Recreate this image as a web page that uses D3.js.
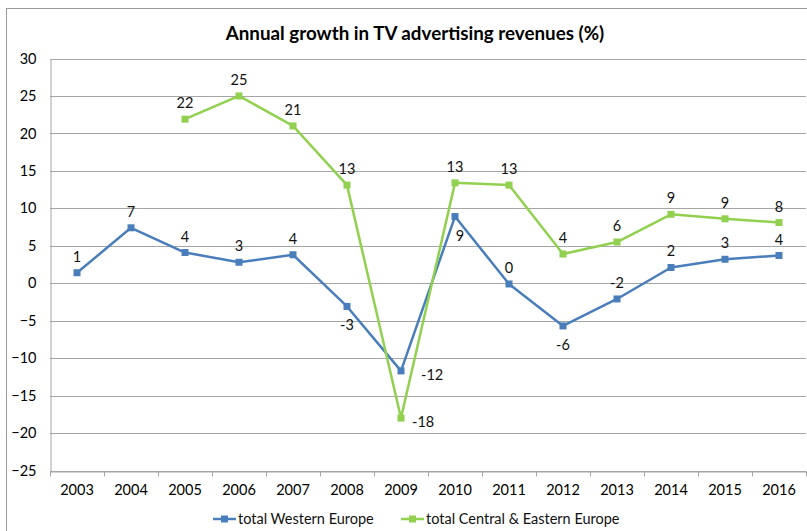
<!DOCTYPE html>
<html>
<head>
<meta charset="utf-8">
<script src="https://cdn.jsdelivr.net/npm/d3@7/dist/d3.min.js"></script>
<style>
  html, body { margin: 0; padding: 0; background: #fff; }
  svg { display: block; font-family: Lato, "Open Sans", sans-serif; }
</style>
</head>
<body>
<svg id="chart" width="807" height="531"></svg>
<script>
const years = ["2003","2004","2005","2006","2007","2008","2009","2010","2011","2012","2013","2014","2015","2016"];
const westernEurope = [1.4, 7.4, 4.1, 2.8, 3.8, -3.1, -11.7, 8.9, -0.1, -5.7, -2.1, 2.1, 3.2, 3.7];
const centralEasternEurope = [null, null, 21.9, 25.0, 21.0, 13.1, -18.0, 13.4, 13.1, 3.9, 5.5, 9.2, 8.6, 8.1];
const westernLabelPlacement = ["above","above","above","above","above","below","right","belowRight","above","below","above","above","above","above"];
const easternLabelPlacement = [null,null,"above","above","above","above","right","above","above","above","above","above","above","above"];
const yTicks = [30, 25, 20, 15, 10, 5, 0, -5, -10, -15, -20, -25];
const seriesNames = ["total Western Europe", "total Central & Eastern Europe"];
const title = "Annual growth in TV advertising revenues (%)";

const colors = ["#4a7ebb", "#92d050"];
const fs = 14.5;
const svg = d3.select("#chart");

// outer chart border
svg.append("rect").attr("x", 6.5).attr("y", 8.5).attr("width", 900).attr("height", 600)
  .attr("fill", "#fff").attr("stroke", "#9a9a9a").attr("stroke-width", 1);

const x = d3.scaleBand().domain(years).range([50, 806]);
const y = d3.scaleLinear().domain([-25, 30]).range([470.5, 58.5]);

// gridlines
svg.append("g").selectAll("line").data(yTicks).join("line")
  .attr("x1", 50).attr("x2", 806)
  .attr("y1", d => Math.round(y(d)) + 0.5).attr("y2", d => Math.round(y(d)) + 0.5)
  .attr("stroke", "#a5a5a5").attr("stroke-width", 1);

// y axis
const yAxis = svg.append("g").attr("transform", "translate(50.5,0)")
  .call(d3.axisLeft(y).tickValues(yTicks).tickSize(0).tickPadding(14).tickFormat(d3.format("d")));
yAxis.select(".domain").attr("stroke", "#a5a5a5");
yAxis.selectAll("text").attr("font-size", fs).attr("fill", "#000").attr("font-family", "Lato, sans-serif");

// x axis
const xAxis = svg.append("g").attr("transform", `translate(0,${Math.round(y(-25)) + 0.5})`)
  .call(d3.axisBottom(x).tickSize(0).tickPadding(13));
xAxis.select(".domain").attr("stroke", "#a5a5a5");
xAxis.selectAll("text").attr("font-size", fs).attr("fill", "#000").attr("font-family", "Lato, sans-serif");
// tick marks at band boundaries
const boundaries = years.map(d => x(d)).concat([x(years[years.length - 1]) + x.bandwidth()]);
xAxis.append("g").selectAll("line").data(boundaries).join("line")
  .attr("x1", d => Math.round(d) + 0.5).attr("x2", d => Math.round(d) + 0.5)
  .attr("y1", 0).attr("y2", 5).attr("stroke", "#a5a5a5");

const cx = i => x(years[i]) + x.bandwidth() / 2;

function drawSeries(values, color, placements) {
  const pts = values.map((v, i) => ({ v, i })).filter(d => d.v !== null);
  const line = d3.line().x(d => cx(d.i)).y(d => y(d.v));
  svg.append("path").datum(pts).attr("d", line)
    .attr("fill", "none").attr("stroke", color).attr("stroke-width", 2.5).attr("stroke-linejoin", "round");
  svg.append("g").selectAll("rect").data(pts).join("rect")
    .attr("x", d => cx(d.i) - 3.5).attr("y", d => y(d.v) - 3.5)
    .attr("width", 7).attr("height", 7).attr("fill", color);
  svg.append("g").selectAll("text").data(pts).join("text")
    .attr("font-size", fs).attr("fill", "#111")
    .attr("text-anchor", d => (placements[d.i] === "right" ? "start" : "middle"))
    .attr("x", d => {
      const p = placements[d.i];
      if (p === "right") return cx(d.i) + (d.v < -15 ? 11 : 20);
      if (p === "belowRight") return cx(d.i) + 5;
      return cx(d.i);
    })
    .attr("y", d => {
      const p = placements[d.i];
      if (p === "above") return y(d.v) - 11;
      if (p === "below" || p === "belowRight") return y(d.v) + 24;
      return y(d.v) + 9;
    })
    .text(d => String(Math.round(d.v) === 0 ? 0 : Math.round(d.v)));
}

drawSeries(westernEurope, colors[0], westernLabelPlacement);
drawSeries(centralEasternEurope, colors[1], easternLabelPlacement);

// title
svg.append("text").attr("x", 415).attr("y", 40).attr("text-anchor", "middle")
  .attr("font-size", 18.8).attr("font-weight", "bold").attr("fill", "#000").text(title);

// legend
const legendX = [213, 401];
seriesNames.forEach((name, i) => {
  const g = svg.append("g").attr("transform", `translate(${legendX[i]},519)`);
  g.append("line").attr("x1", 0).attr("x2", 23).attr("y1", 0).attr("y2", 0)
    .attr("stroke", colors[i]).attr("stroke-width", 2.5);
  g.append("rect").attr("x", 8).attr("y", -3.5).attr("width", 7).attr("height", 7).attr("fill", colors[i]);
  g.append("text").attr("x", 25).attr("y", 5).attr("font-size", fs).attr("fill", "#111").text(name);
});
</script>
</body>
</html>
